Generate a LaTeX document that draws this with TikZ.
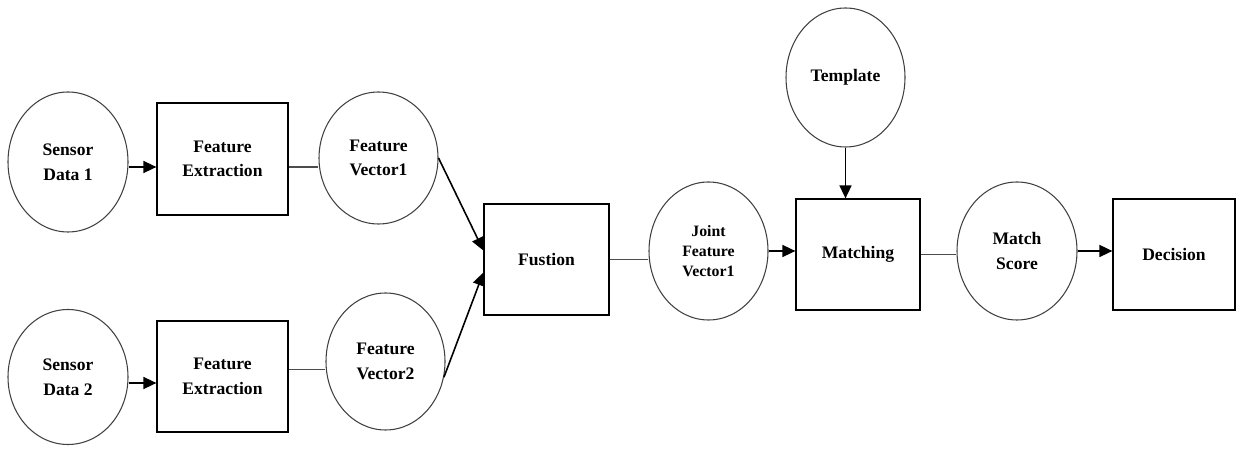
\documentclass[tikz,border=0pt]{standalone}
\usepackage{fontspec}
\setmainfont{Liberation Serif}
\usetikzlibrary{shapes.geometric,arrows.meta}
\begin{document}
\begin{tikzpicture}[font=\fontsize{10}{14}\selectfont\bfseries,
  circ/.style={ellipse, draw=black!75, line width=0.6pt, align=center, minimum width=2.4cm, minimum height=2.76cm, inner sep=0pt},
  blk/.style={rectangle, draw, line width=0.7pt, align=center, minimum width=2.5cm, minimum height=2.22cm, inner sep=0pt},
  arr/.style={line width=0.9pt, -{Triangle[length=0.26cm, width=0.24cm]}},
  ln/.style={line width=0.7pt, black!70}]
  \useasboundingbox (0,0) rectangle (24.74,8.98);
  % upper branch
  \node[circ, minimum height=2.8cm] (sd1) at (1.36,5.74) {Sensor\\Data 1};
  \node[blk, minimum width=2.62cm, minimum height=2.24cm] (fe1) at (4.45,5.80) {Feature\\Extraction};
  \node[circ, minimum width=2.38cm, minimum height=2.64cm] (fv1) at (7.57,5.82) {Feature\\Vector1};
  % lower branch
  \node[circ, minimum height=2.7cm] (sd2) at (1.36,1.44) {Sensor\\Data 2};
  \node[blk, minimum width=2.62cm] (fe2) at (4.45,1.45) {Feature\\Extraction};
  \node[circ, minimum width=2.38cm, minimum height=2.74cm] (fv2) at (7.71,1.75) {Feature\\Vector2};
  % fusion and matching
  \node[blk] (fus) at (10.93,3.79) {Fustion};
  \node[circ, minimum width=2.38cm, font=\fontsize{9}{11.5}\selectfont\bfseries] (jfv) at (14.17,3.96) {Joint\\Feature\\Vector1};
  \node[blk, minimum width=2.48cm] (mat) at (17.16,3.89) {Matching};
  \node[circ, minimum width=2.38cm, minimum height=2.78cm] (tem) at (16.91,7.43) {Template};
  \node[circ] (ms) at (20.34,3.96) {Match\\Score};
  \node[blk, minimum width=2.44cm] (dec) at (23.48,3.89) {Decision};

  \draw[arr] ([yshift=-0.1cm]sd1.east) -- ([yshift=-0.1cm]sd1.east -| fe1.west);
  \draw[ln] ([yshift=-0.16cm]fe1.east) -- ([yshift=-0.16cm]fe1.east -| fv1.west);
  \draw[arr] ([yshift=-0.12cm]sd2.east) -- ([yshift=-0.12cm]sd2.east -| fe2.west);
  \draw[ln] ([yshift=0.14cm]fe2.east) -- ([yshift=0.14cm]fe2.east -| fv2.west);
  \draw[arr] (fv1.east) -- ([yshift=0.18cm]fus.west);
  \draw[arr] (fv2.-15) -- ([yshift=-0.26cm]fus.west);
  \draw[ln] (fus.east) -- (fus.east -| jfv.west);
  \draw[arr] (jfv.east) -- (jfv.east -| mat.west);
  \draw[arr] (tem.south) -- (tem.south |- mat.north);
  \draw[ln] (mat.east) -- (mat.east -| ms.west);
  \draw[arr] (ms.east) -- (ms.east -| dec.west);
\end{tikzpicture}
\end{document}
